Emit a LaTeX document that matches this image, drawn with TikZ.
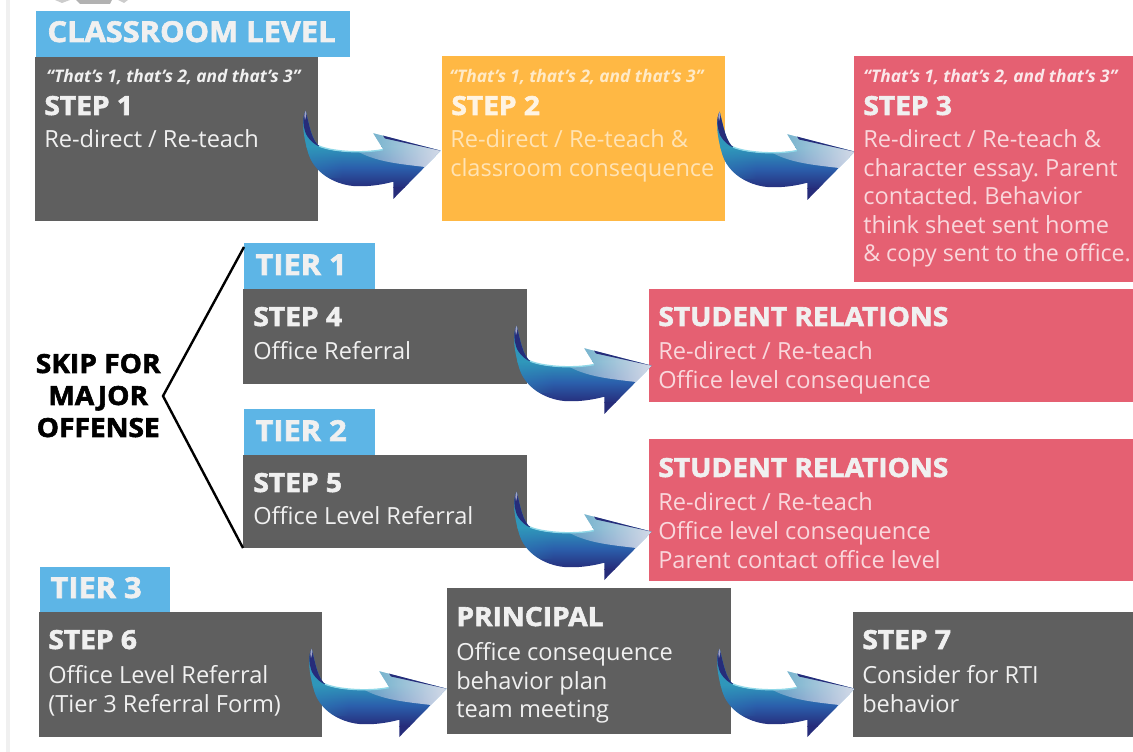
\documentclass[tikz,border=0pt]{standalone}
\usepackage{fontspec}
\setmainfont{Open Sans}
\newfontfamily\heavy{Open Sans}[BoldFeatures={FakeBold=2.2,FakeStretch=1.07}]
\usetikzlibrary{fadings,calc}
\definecolor{skyb}{HTML}{5DB5E6}
\definecolor{slate}{HTML}{5F5F5F}
\definecolor{amber}{HTML}{FFB844}
\definecolor{rose}{HTML}{E56072}
\definecolor{paper}{HTML}{F0F0F0}
\definecolor{navyd}{HTML}{262C7A}
\definecolor{bluem}{HTML}{2B5FAC}
\definecolor{tealm}{HTML}{2F96BA}
\definecolor{cyanl}{HTML}{8FD8E8}
\definecolor{silver}{HTML}{D4DAE8}
\tikzfading[name=fadehead,left color=transparent!70,right color=transparent!0]
\tikzfading[name=fadetail,left color=transparent!55,right color=transparent!100]
\tikzset{
  x=0.75pt,y=-0.75pt,
  panel/.style={anchor=north west,inner sep=0pt,outer sep=0pt,draw=none,minimum width=#1},
  head/.style={anchor=base west,inner sep=0pt,xshift=-0.6pt,text=#1,font=\heavy\bfseries\fontsize{19.7}{23}\selectfont},
  head/.default=paper,
  title/.style={head,font=\heavy\bfseries\fontsize{21.6}{26}\selectfont},
  body/.style={anchor=base west,inner sep=0pt,xshift=-0.75pt,text=#1,font=\frenchspacing\fontsize{17.7}{21}\selectfont},
  body/.default=paper,
  quote/.style={anchor=base west,inner sep=0pt,text=#1,font=\heavy\bfseries\itshape\fontsize{13}{15}\selectfont},
  quote/.default=paper,
  bracket/.style={draw=black,line width=1.8pt},
  bigarrow/.pic={
    \begin{scope}
    \clip (0.7,-1.3) .. controls (-3,5) and (-3,20) .. (3.3,41.3)
      .. controls (9,60) and (28,72) .. (48.3,74)
      .. controls (62,75) and (76,73) .. (88.3,69.7)
      -- (88.3,87) -- (135.7,38.7) -- (68.3,21.3) -- (78.3,37.3)
      .. controls (60,41) and (30,41) .. (15,34.7)
      .. controls (7,30) and (4,12) .. cycle;
    \fill[tealm] (-5,-5) rectangle (140,36);
    \path[top color=tealm,bottom color=navyd,middle color=bluem] (-5,35) rectangle (140,76);
    \fill[navyd] (-5,75.5) rectangle (140,90);
    \fill[tealm,path fading=fadetail] (-5,15) rectangle (38,66);
    \fill[silver,path fading=fadehead]
      (50,38) -- (78.3,37.3) -- (68.3,21.3) -- (135.7,38.7) -- (120,55)
      .. controls (95,52) and (70,50) .. (50,38) -- cycle;
    \end{scope}
    \fill[navyd] (0.7,-1.3) .. controls (-3,5) and (-2,14) .. (1,22)
      .. controls (5,29) and (10,33) .. (15,34.7) .. controls (7,30) and (4,12) .. cycle;
    \fill[silver!70!navyd] (0.7,-1.3) .. controls (-1,2) and (-1,5) .. (0,8) .. controls (1,5) and (2,3) .. cycle;
    \fill[navyd] (78,23.6) -- (135.7,38.7) -- (80,26.5) -- cycle;
    \draw[cyanl,line width=1pt] (14,34) .. controls (25,39) and (55,42) .. (78,37.6);
  }
}
\begin{document}
\begin{tikzpicture}
\useasboundingbox (0,0) rectangle (1133,752);
\fill[white] (0,0) rectangle (1133,752);
\fill[paper] (6,0) rectangle (10,752);
% logo fragment at the top edge
\fill[gray!60] (76,0) -- (112,0) -- (110,4) -- (80,4) -- cycle;
\fill[gray!40] (55,0) -- (70,0) -- (62,3) -- cycle;
\fill[gray!40] (118,0) -- (128,0) -- (124,3) -- cycle;
% panels
\node[panel=283*0.75pt,minimum height=164*0.75pt,fill=slate] (p1) at (35,57) {};
\node[panel=314*0.75pt,minimum height=46*0.75pt,fill=skyb] (lab0) at (36,11) {};
\node[panel=283*0.75pt,minimum height=165*0.75pt,fill=amber] (p2) at (442,56) {};
\node[panel=279*0.75pt,minimum height=226*0.75pt,fill=rose] (p3) at (854,56) {};
\node[panel=131*0.75pt,minimum height=46*0.75pt,fill=skyb] (lab1) at (244,243) {};
\node[panel=284*0.75pt,minimum height=95*0.75pt,fill=slate] (p4) at (243,289) {};
\node[panel=484*0.75pt,minimum height=113*0.75pt,fill=rose] (r1) at (649,289) {};
\node[panel=131*0.75pt,minimum height=46*0.75pt,fill=skyb] (lab2) at (244,409) {};
\node[panel=284*0.75pt,minimum height=93*0.75pt,fill=slate] (p5) at (243,455) {};
\node[panel=484*0.75pt,minimum height=142*0.75pt,fill=rose] (r2) at (649,439) {};
\node[panel=130*0.75pt,minimum height=46*0.75pt,fill=skyb] (lab3) at (40,567) {};
\node[panel=283*0.75pt,minimum height=125*0.75pt,fill=slate] (p6) at (39,612) {};
\node[panel=284*0.75pt,minimum height=146*0.75pt,fill=slate] (pr) at (447,588) {};
\node[panel=280*0.75pt,minimum height=125*0.75pt,fill=slate] (p7) at (853,612) {};
% headings
\node[title] (tl0) at (48,42) {CLASSROOM LEVEL};
\node[title] (tl1) at (256,275) {TIER 1};
\node[title] (tl2) at (256,441) {TIER 2};
\node[title] (tl3) at (51,598) {TIER 3};
% step 1
\node[quote] (q1) at (46,83) {“That’s 1, that’s 2, and that’s 3”};
\node[head] (s1) at (45,115) {STEP 1};
\node[body] (b1) at (45,148) {Re-direct / Re-teach};
% step 2
\node[quote=white!70!amber] (q2) at (449,83) {“That’s 1, that’s 2, and that’s 3”};
\node[head=white!85!amber] (s2) at (452,115) {STEP 2};
\node[body=white!60!amber] (b2a) at (451,148) {Re-direct / Re-teach \&};
\node[body=white!60!amber] (b2b) at (451,177) {classroom consequence};
% step 3
\node[quote=white!85!rose] (q3) at (863,83) {“That’s 1, that’s 2, and that’s 3”};
\node[head] (s3) at (864,115) {STEP 3};
\node[body=white!75!rose] (b3a) at (864,148) {Re-direct / Re-teach \&};
\node[body=white!75!rose] (b3b) at (864,177) {character essay. Parent};
\node[body=white!75!rose] (b3c) at (864,205) {contacted. Behavior};
\node[body=white!75!rose] (b3d) at (864,234) {think sheet sent home};
\node[body=white!75!rose,font=\frenchspacing\fontsize{17.4}{21}\selectfont] (b3e) at (864,262) {\& copy sent to the office.};
% step 4
\node[head] (s4) at (254,326) {STEP 4};
\node[body] (b4) at (254,360) {Office Referral};
% relations 1
\node[head] (h1) at (659,326) {STUDENT RELATIONS};
\node[body=white!75!rose] (r1a) at (659,360) {Re-direct / Re-teach};
\node[body=white!75!rose] (r1b) at (659,389) {Office level consequence};
% step 5
\node[head] (s5) at (254,492) {STEP 5};
\node[body] (b5) at (254,524) {Office Level Referral};
% relations 2
\node[head] (h2) at (659,477) {STUDENT RELATIONS};
\node[body=white!75!rose] (r2a) at (659,511) {Re-direct / Re-teach};
\node[body=white!75!rose] (r2b) at (659,540) {Office level consequence};
\node[body=white!75!rose] (r2c) at (659,568) {Parent contact office level};
% step 6
\node[head] (s6) at (49,649) {STEP 6};
\node[body] (b6a) at (49,683) {Office Level Referral};
\node[body] (b6b) at (49,712) {(Tier 3 Referral Form)};
% principal
\node[head] (hp) at (457,626) {PRINCIPAL};
\node[body] (pa) at (457,660) {Office consequence};
\node[body] (pb) at (457,689) {behavior plan};
\node[body] (pc) at (457,717) {team meeting};
% step 7
\node[head] (s7) at (863,649) {STEP 7};
\node[body] (b7a) at (863,683) {Consider for RTI};
\node[body] (b7b) at (863,712) {behavior};
% skip label
\node[head=black,anchor=base] (k1) at (99,373) {SKIP FOR};
\node[head=black,anchor=base] (k2) at (99,405) {MAJOR};
\node[head=black,anchor=base] (k3) at (99,437) {OFFENSE};
% bracket
\coordinate (ba) at (163,396);
\coordinate (bt) at (244,247);
\draw[bracket] (bt) -- (ba) -- (p5.south west);
% arrows
\pic at ($(p1.north east)+(-13,55)$) {bigarrow};
\pic at ($(p2.north east)+(-6,57)$) {bigarrow};
\pic at ($(p4.north east)+(-11,38)$) {bigarrow};
\pic at ($(p5.north east)+(-11,38)$) {bigarrow};
\pic at ($(p6.north east)+(-11,38)$) {bigarrow};
\pic at ($(pr.north east)+(-12,62)$) {bigarrow};
\end{tikzpicture}
\end{document}
